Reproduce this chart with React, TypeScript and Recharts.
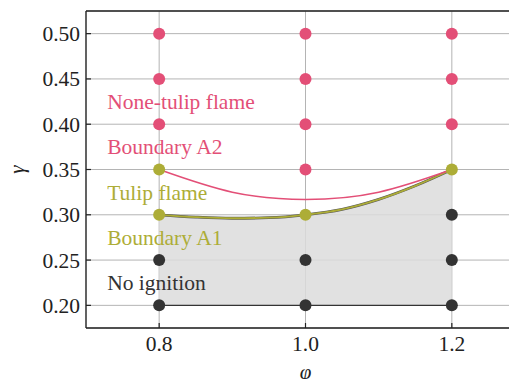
import { ComposedChart, XAxis, YAxis, CartesianGrid, Scatter, Line, Area, ReferenceLine, ReferenceDot } from 'recharts';

const FONT = '"Liberation Serif", "Times New Roman", serif';

const PINK = '#e34f77';
const OLIVE = '#adad37';
const DARK = '#333333';

// grid points, one list per regime
const noIgnition = [
  { x: 0.8, y: 0.2 }, { x: 0.8, y: 0.25 },
  { x: 1.0, y: 0.2 }, { x: 1.0, y: 0.25 },
  { x: 1.2, y: 0.2 }, { x: 1.2, y: 0.25 }, { x: 1.2, y: 0.3 },
];
const tulip = [
  { x: 0.8, y: 0.3 }, { x: 0.8, y: 0.35 },
  { x: 1.0, y: 0.3 },
  { x: 1.2, y: 0.35 },
];
const noneTulip = [
  { x: 0.8, y: 0.4 }, { x: 0.8, y: 0.45 }, { x: 0.8, y: 0.5 },
  { x: 1.0, y: 0.35 }, { x: 1.0, y: 0.4 }, { x: 1.0, y: 0.45 }, { x: 1.0, y: 0.5 },
  { x: 1.2, y: 0.4 }, { x: 1.2, y: 0.45 }, { x: 1.2, y: 0.5 },
];

// boundary curves
const boundaryA1 = [
  { x: 0.8, y: 0.3 }, { x: 0.85, y: 0.2975 }, { x: 0.9, y: 0.2962 }, { x: 0.95, y: 0.2968 },
  { x: 1.0, y: 0.3 }, { x: 1.05, y: 0.306 }, { x: 1.1, y: 0.317 }, { x: 1.15, y: 0.332 }, { x: 1.2, y: 0.35 },
];
const boundaryA2 = [
  { x: 0.8, y: 0.35 }, { x: 0.9, y: 0.325 }, { x: 1.0, y: 0.317 }, { x: 1.1, y: 0.325 }, { x: 1.2, y: 0.35 },
];
const floorLine = [{ x: 0.8, y: 0.2 }, { x: 1.2, y: 0.2 }];

const xTicks = [0.8, 1.0, 1.2];
const yTicks = [0.2, 0.25, 0.3, 0.35, 0.4, 0.45, 0.5];

const regionLabels = [
  { text: 'None-tulip flame', x: 0.729, y: 0.425, color: PINK },
  { text: 'Boundary A2', x: 0.729, y: 0.375, color: PINK },
  { text: 'Tulip flame', x: 0.729, y: 0.325, color: OLIVE },
  { text: 'Boundary A1', x: 0.729, y: 0.275, color: OLIVE },
  { text: 'No ignition', x: 0.729, y: 0.225, color: DARK },
];

const dot = (color: string) => (props: any) => (
  <circle cx={props.cx} cy={props.cy} r={6} fill={color} />
);

// ticks point into the plot, like matplotlib's direction='in'
const XTick = (props: any) => {
  const { x, y, payload } = props;
  const axisY = y - 8;
  return (
    <g>
      <line x1={x} x2={x} y1={axisY} y2={axisY - 5} stroke="#222" strokeWidth={1.2} />
      <text x={x} y={y} dy="0.71em" textAnchor="middle" fill="#222" fontSize={21.5} fontFamily={FONT}>
        {payload.value.toFixed(1)}
      </text>
    </g>
  );
};

const YTick = (props: any) => {
  const { x, y, payload } = props;
  const axisX = x + 6;
  return (
    <g>
      <line x1={axisX} x2={axisX + 5} y1={y} y2={y} stroke="#222" strokeWidth={1.2} />
      <text x={x} y={y} dy="0.35em" textAnchor="end" fill="#222" fontSize={21.5} fontFamily={FONT}>
        {payload.value.toFixed(2)}
      </text>
    </g>
  );
};

export default function App() {
  return (
    <div style={{ margin: -8, width: 517, height: 387, overflow: 'hidden', background: '#fff', fontFamily: FONT }}>
      <ComposedChart width={540} height={387} margin={{ top: 11, right: 15, left: 0, bottom: 0 }}>
        <CartesianGrid stroke="#b4b4b4" strokeWidth={1} />
        <XAxis
          type="number"
          dataKey="x"
          domain={[0.7, 1.3]}
          ticks={xTicks}
          height={59}
          stroke="#222"
          strokeWidth={1.3}
          tickLine={false}
          tickSize={0}
          tickMargin={8}
          tick={XTick}
          label={(p: any) => (
            <text x={p.viewBox.x + p.viewBox.width / 2} y={379} textAnchor="middle" fill="#222" fontSize={21} fontStyle="italic" fontFamily={FONT}>
              φ
            </text>
          )}
        />
        <YAxis
          type="number"
          dataKey="y"
          domain={[0.175, 0.525]}
          ticks={yTicks}
          width={86}
          stroke="#222"
          strokeWidth={1.3}
          tickLine={false}
          tickSize={0}
          tickMargin={6}
          tick={YTick}
          label={(p: any) => (
            <text x={17} y={p.viewBox.y + p.viewBox.height / 2} dy="0.35em" textAnchor="middle" fill="#222" fontSize={21} fontStyle="italic" fontFamily={FONT} transform={`rotate(-90 17 ${p.viewBox.y + p.viewBox.height / 2})`}>
              γ
            </text>
          )}
        />
        <ReferenceLine y={0.525} stroke="#222" strokeWidth={1.5} />
        <Area
          data={boundaryA1}
          dataKey="y"
          type="monotone"
          baseValue={0.2}
          fill="#dcdcdc"
          fillOpacity={0.85}
          stroke="#555"
          strokeWidth={2.8}
          isAnimationActive={false}
        />
        <Line data={floorLine} dataKey="y" stroke="#333" strokeWidth={1.3} dot={false} isAnimationActive={false} />
        <Line data={boundaryA1} dataKey="y" type="monotone" stroke={OLIVE} strokeWidth={1.8} dot={false} isAnimationActive={false} />
        <Line data={boundaryA2} dataKey="y" type="natural" stroke={PINK} strokeWidth={1.5} dot={false} isAnimationActive={false} />
        <Scatter data={noIgnition} dataKey="y" shape={dot(DARK)} isAnimationActive={false} />
        <Scatter data={tulip} dataKey="y" shape={dot(OLIVE)} isAnimationActive={false} />
        <Scatter data={noneTulip} dataKey="y" shape={dot(PINK)} isAnimationActive={false} />
        {regionLabels.map((l) => (
          <ReferenceDot
            key={l.text}
            x={l.x}
            y={l.y}
            r={0}
            stroke="none"
            fill="none"
            label={(p: any) => (
              <text x={p.viewBox.x} y={p.viewBox.y} dy="0.35em" textAnchor="start" fill={l.color} fontSize={21.5} fontFamily={FONT}>
                {l.text}
              </text>
            )}
          />
        ))}
      </ComposedChart>
    </div>
  );
}
